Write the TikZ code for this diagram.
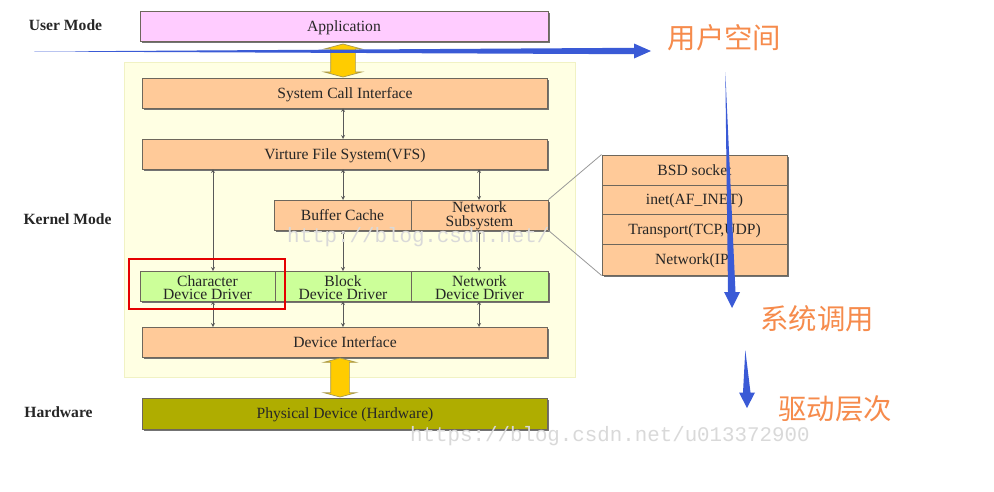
\documentclass[tikz,border=0pt]{standalone}
\usepackage{fontspec}
\setmainfont{Liberation Serif}
\setmonofont{Liberation Mono}
\newfontfamily\cjk{Noto Sans CJK SC}[Scale=1]
\usepackage{tikz}
\usetikzlibrary{graphs,shadows,shapes.arrows}

\definecolor{boxorange}{HTML}{FFCA99}
\definecolor{boxpink}{HTML}{FFCCFF}
\definecolor{boxgreen}{HTML}{CCFF99}
\definecolor{boxolive}{HTML}{AFAD00}
\definecolor{kernelbg}{HTML}{FFFFE3}
\definecolor{kernelline}{HTML}{F1F2C4}
\definecolor{boxline}{HTML}{6E675C}
\definecolor{arrowblue}{HTML}{3A5AD6}
\definecolor{noteorange}{HTML}{F68B4C}
\definecolor{markgray}{HTML}{D9D9D9}
\definecolor{arrowyellow}{HTML}{FFCC00}
\definecolor{arrowline}{HTML}{A89A50}

\tikzset{
  layer/.style={draw=boxline,line width=.9pt,inner sep=0pt,align=center,
    font=\fontsize{15.6}{12.5}\selectfont,text=black!85,text depth=0pt,
    general shadow={shadow xshift=1.5pt,shadow yshift=-1.5pt,fill=black!55}},
  drvlayer/.style={layer,fill=boxgreen,minimum height=30pt,text height=26pt,text depth=0pt},
  modelabel/.style={font=\fontsize{15.6}{15}\selectfont\bfseries,text=black!85,inner sep=0pt},
  note/.style={font=\fontsize{28.4}{28}\selectfont\cjk,text=noteorange,inner sep=0pt},
  watermark/.style={font=\fontsize{20.8}{20}\selectfont\ttfamily,text=markgray,inner sep=0pt},
  bigarrow/.style={double arrow,rotate=90,draw=arrowline,fill=arrowyellow,
    inner sep=0pt,line width=.7pt,double arrow head extend=6.5pt,double arrow tip angle=150},
}

\begin{document}
\begin{tikzpicture}[x=1pt,y=-1pt,>=stealth]
      \useasboundingbox (0,0) rectangle (994,491);
      \fill[white] (0,0) rectangle (994,491);

      \node[draw=kernelline,fill=kernelbg,line width=1pt,minimum width=451pt,minimum height=315pt] (kernel) at (350,220) {};

      \node[modelabel] (user) at (65.5,25) {User Mode};
      \node[modelabel] (kmode) at (67.5,219) {Kernel Mode};
      \node[modelabel] (hw) at (58.5,412) {Hardware};

      \node[layer,fill=boxpink,minimum width=408pt,minimum height=30pt] (app) at (344,26) {Application};
      \node[layer,fill=boxorange,minimum width=405pt,minimum height=30pt] (sys) at (345,93) {System Call Interface};
      \node[layer,fill=boxorange,minimum width=405pt,minimum height=30pt] (vfs) at (345,154) {Virture File System(VFS)};
      \node[layer,fill=boxorange,minimum width=137pt,minimum height=30pt] (buffer) at (342.5,215) {Buffer Cache};
      \node[layer,fill=boxorange,minimum width=137pt,minimum height=30pt,text depth=2pt] (netsub) at (479.5,215) {Network\\[1.5pt]Subsystem};
      \node[drvlayer,minimum width=135pt] (chardrv) at (207.5,286) {Character\\Device Driver};
      \node[drvlayer,minimum width=136pt] (blockdrv) at (343,286) {Block\\Device Driver};
      \node[drvlayer,minimum width=137pt] (netdrv) at (479.5,286) {Network\\Device Driver};
      \node[layer,fill=boxorange,minimum width=405pt,minimum height=30pt] (devif) at (345,342) {Device Interface};
      \node[layer,fill=boxolive,minimum width=405pt,minimum height=31pt] (phys) at (345,413.5) {Physical Device (Hardware)};

      \node[layer,fill=boxorange,minimum width=185pt,minimum height=30pt] (bsd) at (694.5,170) {BSD socket};
      \node[layer,fill=boxorange,minimum width=185pt,minimum height=29pt] (inet) at (694.5,199.5) {inet(AF\_INET)};
      \node[layer,fill=boxorange,minimum width=185pt,minimum height=30pt] (trans) at (694.5,229) {Transport(TCP,UDP)};
      \node[layer,fill=boxorange,minimum width=185pt,minimum height=31pt] (netip) at (694.5,259.5) {Network(IP)};

      \node[bigarrow,minimum height=33pt,text height=12pt,text depth=12pt] (apparrow) at (343,60.5) {};
      \node[bigarrow,minimum height=39pt,text height=9pt,text depth=9pt] (hwarrow) at (340,377.5) {};

      \coordinate (sysb) at (343,108);
      \coordinate (vfst) at (343,139);
      \coordinate (vfsl) at (213,169);
      \coordinate (vfsm) at (343,169);
      \coordinate (vfsr) at (479,169);
      \coordinate (buft) at (343,200);
      \coordinate (bufb) at (343,230);
      \coordinate (nett) at (479,200);
      \coordinate (netb) at (479,230);
      \coordinate (chrt) at (213,271);
      \coordinate (chrb) at (213,301);
      \coordinate (blkt) at (343,271);
      \coordinate (blkb) at (343,301);
      \coordinate (ndrt) at (479,271);
      \coordinate (ndrb) at (479,301);
      \coordinate (devl) at (213,327);
      \coordinate (devm) at (343,327);
      \coordinate (devr) at (479,327);

      \graph[edges={draw=black!65,line width=.8pt}]{
        (sysb) <-> (vfst);
        (vfsl) <-> (chrt);
        (vfsm) <-> (buft);
        (vfsr) <-> (nett);
        (bufb) <-> (blkt);
        (netb) <-> (ndrt);
        (chrb) <-> (devl);
        (blkb) <-> (devm);
        (ndrb) <-> (devr)
      };

      \draw[black!40,line width=.8pt] (netsub.north east) -- (bsd.north west);
      \draw[black!40,line width=.8pt] (netsub.south east) -- (netip.south west);

      \draw[red!90!black,line width=1.5pt] (129,259) rectangle (285,309);

      \node[watermark,anchor=west] (mark1) at (287,237) {http://blog.csdn.net/};
      \node[watermark,anchor=west] (mark2) at (410,436) {https://blog.csdn.net/u013372900};

      % tapered arrows
      \coordinate (upath) at (34,51.5);
      \coordinate (utip) at (651,51);
      \coordinate (spath) at (725.3,72);
      \coordinate (stip) at (732,308);
      \coordinate (dpath) at (745.3,350);
      \coordinate (dtip) at (747,408);
      \fill[arrowblue] (upath) -- ([xshift=-17pt,yshift=3.2pt]utip) -- ([xshift=-17pt,yshift=7.5pt]utip)
        -- (utip) -- ([xshift=-17pt,yshift=-7.5pt]utip) -- ([xshift=-17pt,yshift=-3.2pt]utip) -- cycle;
      \fill[arrowblue] (spath) -- ([xshift=-4pt,yshift=16pt]stip) -- ([xshift=-8pt,yshift=16pt]stip)
        -- (stip) -- ([xshift=8pt,yshift=16pt]stip) -- ([xshift=3.5pt,yshift=16pt]stip) -- cycle;
      \fill[arrowblue] (dpath) -- ([xshift=-4pt,yshift=15.5pt]dtip) -- ([xshift=-8pt,yshift=15.5pt]dtip)
        -- (dtip) -- ([xshift=8pt,yshift=15.5pt]dtip) -- ([xshift=3.5pt,yshift=15.5pt]dtip) -- cycle;

      \node[note] (uspace) at (724.5,38) {用户空间};
      \node[note] (syscall) at (817,319) {系统调用};
      \node[note] (drvlevel) at (835,409) {驱动层次};
    \end{tikzpicture}
\end{document}
